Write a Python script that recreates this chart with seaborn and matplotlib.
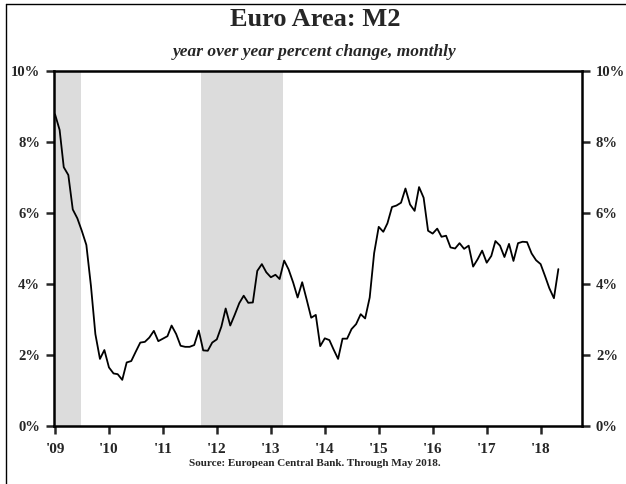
import matplotlib
matplotlib.use("Agg")
import matplotlib.pyplot as plt
from matplotlib.lines import Line2D
import seaborn as sns
import pandas as pd

# ---- data ----
start_month = "2009-01-01"
m2_yoy = [8.78, 8.34, 7.29, 7.07, 6.10, 5.85, 5.50, 5.10, 3.95, 2.59,
          1.89, 2.14, 1.65, 1.48, 1.46, 1.30, 1.79, 1.83, 2.09, 2.35,
          2.37, 2.49, 2.68, 2.39, 2.46, 2.53, 2.83, 2.59, 2.26, 2.23,
          2.23, 2.28, 2.69, 2.13, 2.12, 2.35, 2.44, 2.80, 3.31, 2.83,
          3.13, 3.46, 3.67, 3.47, 3.48, 4.37, 4.56, 4.33, 4.19, 4.26,
          4.14, 4.66, 4.41, 4.04, 3.62, 4.05, 3.55, 3.05, 3.13, 2.25,
          2.47, 2.42, 2.16, 1.89, 2.46, 2.46, 2.73, 2.87, 3.15, 3.03,
          3.62, 4.87, 5.61, 5.47, 5.71, 6.17, 6.21, 6.29, 6.69, 6.24,
          6.06, 6.73, 6.43, 5.50, 5.42, 5.56, 5.33, 5.36, 5.03, 5.00,
          5.15, 4.99, 5.08, 4.49, 4.70, 4.94, 4.60, 4.79, 5.21, 5.08,
          4.76, 5.13, 4.65, 5.15, 5.19, 5.18, 4.86, 4.67, 4.56, 4.21,
          3.88, 3.60, 4.42]
recession_starts = ["2008-12-20", "2011-09-15"]
recession_ends = ["2009-06-24", "2013-03-23"]
year_ticks = ["2009", "2010", "2011", "2012", "2013", "2014", "2015", "2016", "2017", "2018"]
year_labels = ["'09", "'10", "'11", "'12", "'13", "'14", "'15", "'16", "'17", "'18"]
y_ticks = [0, 2, 4, 6, 8, 10]
y_labels = ["0%", "2%", "4%", "6%", "8%", "10%"]

dates = pd.date_range(start_month, periods=len(m2_yoy), freq="MS")
df = pd.DataFrame({"date": dates, "m2": m2_yoy})

sns.set_style("white")
plt.rcParams["font.family"] = ["Liberation Serif", "DejaVu Serif"]
plt.rcParams["font.weight"] = "bold"

fig = plt.figure(figsize=(6.26, 4.84), dpi=100)
ax = fig.add_axes([54/626, 1-426/484, (582-54)/626, (426-71)/484])

for s, e in zip(recession_starts, recession_ends):
    ax.axvspan(pd.Timestamp(s), pd.Timestamp(e), color="#dcdcdc", lw=0, zorder=0)

sns.lineplot(data=df, x="date", y="m2", color="black", linewidth=1.3, ax=ax, zorder=3)

ax.set_xlim(pd.Timestamp("2008-12-25"), pd.Timestamp("2018-10-08"))
ax.set_ylim(0, 10)
ax.set_xticks([pd.Timestamp(t + "-01-01") for t in year_ticks])
ax.set_xticklabels(year_labels, fontsize=11, fontweight="bold")
ax.set_yticks(y_ticks)
ax.set_yticklabels(y_labels, fontsize=10.5, fontweight="bold")
ax.set_xlabel("")
ax.set_ylabel("")

for sp in ax.spines.values():
    sp.set_visible(True)
    sp.set_linewidth(1.8)
    sp.set_color("black")

ax.tick_params(axis="x", direction="out", length=6, width=1.8, pad=6, bottom=True)
ax.tick_params(axis="y", direction="out", length=6, width=1.8, pad=4,
               left=True, right=True, labelleft=True, labelright=True)

fig.text(0.503, 1-20/484, "Euro Area: M2", ha="center", va="center",
         fontsize=19, fontweight="bold")
fig.text(0.503, 1-52/484, "year over year percent change, monthly", ha="center",
         va="center", fontsize=12.5, fontweight="bold", style="italic")
fig.text(0.503, 1-464/484, "Source: European Central Bank. Through May 2018.",
         ha="center", va="center", fontsize=8, fontweight="bold")

# outer frame
fr = dict(color="black", lw=1.0, transform=fig.transFigure)
fig.add_artist(Line2D([6/626, 6/626], [0, 1-4/484], **fr))
fig.add_artist(Line2D([6/626, 1.0], [1-4/484, 1-4/484], **fr))

fig.savefig("out.png", dpi=100)
